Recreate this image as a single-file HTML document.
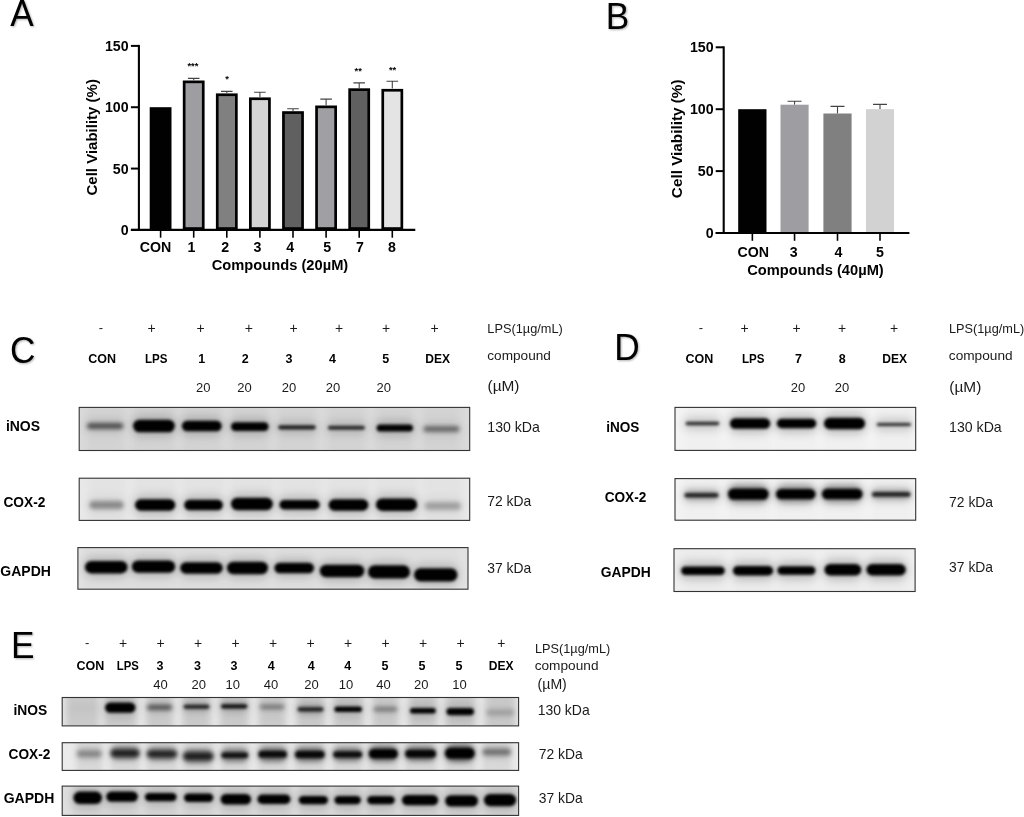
<!DOCTYPE html>
<html><head><meta charset="utf-8"><title>Figure</title>
<style>html,body{margin:0;padding:0;background:#fff}body{width:1024px;height:817px;overflow:hidden}svg{display:block}text{font-family:"Liberation Sans",sans-serif}</style>
</head><body>
<svg width="1024" height="817" viewBox="0 0 1024 817">
<defs>
<filter id="b16" x="-5%" y="-50%" width="110%" height="200%"><feGaussianBlur stdDeviation="1.6"/></filter>
<filter id="b22" x="-5%" y="-50%" width="110%" height="200%"><feGaussianBlur stdDeviation="2.1"/></filter>
<filter id="b3" x="-5%" y="-50%" width="110%" height="200%"><feGaussianBlur stdDeviation="3"/></filter>
<filter id="b25" x="-5%" y="-50%" width="110%" height="200%"><feGaussianBlur stdDeviation="2.6"/></filter>
<filter id="b4" x="-5%" y="-50%" width="110%" height="200%"><feGaussianBlur stdDeviation="4"/></filter>
<filter id="sh" x="-10%" y="-10%" width="130%" height="130%"><feGaussianBlur in="SourceAlpha" stdDeviation="0.8" result="s"/><feOffset in="s" dx="0.8" dy="0.8" result="o"/><feComponentTransfer in="o" result="o2"><feFuncA type="linear" slope="0.32"/></feComponentTransfer><feMerge><feMergeNode in="o2"/><feMergeNode in="SourceGraphic"/></feMerge></filter>
</defs>
<rect width="1024" height="817" fill="#fff"/>
<g opacity="0.999">
<g id="chartA">
<rect x="149.70" y="107.2" width="21.8" height="122.70" fill="#000"/>
<path d="M160.60 229.9V237.70000000000002" stroke="#000" stroke-width="1.6"/>
<path d="M193.70 80.2V78.4M187.90 78.4H199.50" stroke="#444" stroke-width="1.1" fill="none"/>
<rect x="184.15" y="81.85" width="19.10" height="146.70" fill="#9e9da2" stroke="#000" stroke-width="2.7"/>
<path d="M193.70 229.9V237.70000000000002" stroke="#000" stroke-width="1.6"/>
<path d="M226.80 93.1V91.4M221.00 91.4H232.60" stroke="#444" stroke-width="1.1" fill="none"/>
<rect x="217.25" y="94.75" width="19.10" height="133.80" fill="#808080" stroke="#000" stroke-width="2.7"/>
<path d="M226.80 229.9V237.70000000000002" stroke="#000" stroke-width="1.6"/>
<path d="M259.90 97.1V92.2M254.10 92.2H265.70" stroke="#444" stroke-width="1.1" fill="none"/>
<rect x="250.35" y="98.75" width="19.10" height="129.80" fill="#d4d4d4" stroke="#000" stroke-width="2.7"/>
<path d="M259.90 229.9V237.70000000000002" stroke="#000" stroke-width="1.6"/>
<path d="M293.00 110.9V108.7M287.20 108.7H298.80" stroke="#444" stroke-width="1.1" fill="none"/>
<rect x="283.45" y="112.55" width="19.10" height="116.00" fill="#606060" stroke="#000" stroke-width="2.7"/>
<path d="M293.00 229.9V237.70000000000002" stroke="#000" stroke-width="1.6"/>
<path d="M326.10 105.2V99.1M320.30 99.1H331.90" stroke="#444" stroke-width="1.1" fill="none"/>
<rect x="316.55" y="106.85" width="19.10" height="121.70" fill="#a09fa4" stroke="#000" stroke-width="2.7"/>
<path d="M326.10 229.9V237.70000000000002" stroke="#000" stroke-width="1.6"/>
<path d="M359.20 88.0V82.9M353.40 82.9H365.00" stroke="#444" stroke-width="1.1" fill="none"/>
<rect x="349.65" y="89.65" width="19.10" height="138.90" fill="#606060" stroke="#000" stroke-width="2.7"/>
<path d="M359.20 229.9V237.70000000000002" stroke="#000" stroke-width="1.6"/>
<path d="M392.30 88.6V81.2M386.50 81.2H398.10" stroke="#444" stroke-width="1.1" fill="none"/>
<rect x="382.75" y="90.25" width="19.10" height="138.30" fill="#e4e4e4" stroke="#000" stroke-width="2.7"/>
<path d="M392.30 229.9V237.70000000000002" stroke="#000" stroke-width="1.6"/>
<path d="M138.9 44.9V229.9" stroke="#000" stroke-width="2.1" fill="none"/>
<path d="M130.9 229.9H415.3" stroke="#000" stroke-width="2.1" fill="none"/>
<path d="M130.9 229.90H138.9" stroke="#000" stroke-width="2"/>
<text x="128.6" y="234.9" font-size="14.2" font-weight="bold" text-anchor="end">0</text>
<path d="M130.9 168.57H138.9" stroke="#000" stroke-width="2"/>
<text x="128.6" y="173.57" font-size="14.2" font-weight="bold" text-anchor="end">50</text>
<path d="M130.9 107.23H138.9" stroke="#000" stroke-width="2"/>
<text x="128.6" y="112.23" font-size="14.2" font-weight="bold" text-anchor="end">100</text>
<path d="M130.9 45.90H138.9" stroke="#000" stroke-width="2"/>
<text x="128.6" y="50.9" font-size="14.2" font-weight="bold" text-anchor="end">150</text>
<text x="155.6" y="251.8" font-size="14.2" font-weight="bold" text-anchor="middle">CON</text>
<text x="191.5" y="251.8" font-size="14.2" font-weight="bold" text-anchor="middle">1</text>
<text x="225.1" y="251.8" font-size="14.2" font-weight="bold" text-anchor="middle">2</text>
<text x="257.4" y="251.8" font-size="14.2" font-weight="bold" text-anchor="middle">3</text>
<text x="290.1" y="251.8" font-size="14.2" font-weight="bold" text-anchor="middle">4</text>
<text x="327.1" y="251.8" font-size="14.2" font-weight="bold" text-anchor="middle">5</text>
<text x="359.9" y="251.8" font-size="14.2" font-weight="bold" text-anchor="middle">7</text>
<text x="391.9" y="251.8" font-size="14.2" font-weight="bold" text-anchor="middle">8</text>
<text x="280" y="270.2" font-size="14.3" font-weight="bold" text-anchor="middle" textLength="136.5" lengthAdjust="spacingAndGlyphs">Compounds (20µM)</text>
<text transform="translate(97.4,137.3) rotate(-90)" font-size="15" font-weight="bold" text-anchor="middle">Cell Viability (%)</text>
<text x="192.9" y="68.6" font-size="9.4" font-weight="bold" text-anchor="middle">***</text>
<text x="227" y="82.4" font-size="9.4" font-weight="bold" text-anchor="middle">*</text>
<text x="358.2" y="74.4" font-size="9.4" font-weight="bold" text-anchor="middle">**</text>
<text x="392.6" y="72.9" font-size="9.4" font-weight="bold" text-anchor="middle">**</text>
</g>
<g id="chartB">
<rect x="738.2" y="109.2" width="28.30" height="123.80" fill="#000"/>
<path d="M752.35 233.0V240.8" stroke="#000" stroke-width="1.6"/>
<path d="M794.55 104.7V101.2M787.55 101.2H801.55" stroke="#444" stroke-width="1.1" fill="none"/>
<rect x="780.5" y="104.7" width="28.10" height="128.30" fill="#9e9da2"/>
<path d="M794.55 233.0V240.8" stroke="#000" stroke-width="1.6"/>
<path d="M837.50 113.5V106.4M830.50 106.4H844.50" stroke="#444" stroke-width="1.1" fill="none"/>
<rect x="823.4" y="113.5" width="28.20" height="119.50" fill="#808080"/>
<path d="M837.50 233.0V240.8" stroke="#000" stroke-width="1.6"/>
<path d="M880.00 109.2V104.4M873.00 104.4H887.00" stroke="#444" stroke-width="1.1" fill="none"/>
<rect x="866.0" y="109.2" width="28.00" height="123.80" fill="#d2d2d2"/>
<path d="M880.00 233.0V240.8" stroke="#000" stroke-width="1.6"/>
<path d="M723.7 46.3V233.0" stroke="#000" stroke-width="2.1" fill="none"/>
<path d="M715.7 233.0H909.4" stroke="#000" stroke-width="2.1" fill="none"/>
<path d="M715.7 233.00H723.7" stroke="#000" stroke-width="2"/>
<text x="713.6" y="238.0" font-size="14.2" font-weight="bold" text-anchor="end">0</text>
<path d="M715.7 171.10H723.7" stroke="#000" stroke-width="2"/>
<text x="713.6" y="176.1" font-size="14.2" font-weight="bold" text-anchor="end">50</text>
<path d="M715.7 109.20H723.7" stroke="#000" stroke-width="2"/>
<text x="713.6" y="114.2" font-size="14.2" font-weight="bold" text-anchor="end">100</text>
<path d="M715.7 47.30H723.7" stroke="#000" stroke-width="2"/>
<text x="713.6" y="52.3" font-size="14.2" font-weight="bold" text-anchor="end">150</text>
<text x="753.3" y="256.9" font-size="14.2" font-weight="bold" text-anchor="middle">CON</text>
<text x="793.8" y="256.9" font-size="14.2" font-weight="bold" text-anchor="middle">3</text>
<text x="838.5" y="256.9" font-size="14.2" font-weight="bold" text-anchor="middle">4</text>
<text x="879.9" y="256.9" font-size="14.2" font-weight="bold" text-anchor="middle">5</text>
<text x="815.5" y="275.2" font-size="14.3" font-weight="bold" text-anchor="middle" textLength="136.5" lengthAdjust="spacingAndGlyphs">Compounds (40µM)</text>
<text transform="translate(682,138.8) rotate(-90)" font-size="15.3" font-weight="bold" text-anchor="middle">Cell Viability (%)</text>
</g>
<g id="panelC">
<clipPath id="c1"><rect x="79.2" y="407.4" width="390.50" height="43.10"/></clipPath>
<rect x="79.2" y="407.4" width="390.50" height="43.10" fill="#dadada"/>
<g clip-path="url(#c1)">
<g filter="url(#b3)">
<rect x="86.0" y="399.4" width="38.3" height="59.1" fill="#000" fill-opacity="0.03"/>
<rect x="132.1" y="399.4" width="43.7" height="59.1" fill="#000" fill-opacity="0.03"/>
<rect x="180.9" y="399.4" width="41.8" height="59.1" fill="#000" fill-opacity="0.03"/>
<rect x="230.0" y="399.4" width="39.6" height="59.1" fill="#000" fill-opacity="0.03"/>
<rect x="277.2" y="399.4" width="39.5" height="59.1" fill="#000" fill-opacity="0.03"/>
<rect x="326.9" y="399.4" width="39.0" height="59.1" fill="#000" fill-opacity="0.03"/>
<rect x="375.6" y="399.4" width="38.4" height="59.1" fill="#000" fill-opacity="0.03"/>
<rect x="422.5" y="399.4" width="37.9" height="59.1" fill="#000" fill-opacity="0.03"/>
</g>
<g filter="url(#b4)">
<rect x="85.0" y="418.0" width="40.3" height="16.0" rx="8.0" fill="#000" fill-opacity="0.096"/>
<rect x="131.1" y="414.7" width="45.7" height="22.6" rx="11.3" fill="#000" fill-opacity="0.160"/>
<rect x="179.9" y="415.8" width="43.8" height="20.4" rx="10.2" fill="#000" fill-opacity="0.160"/>
<rect x="229.0" y="417.3" width="41.6" height="18.6" rx="9.3" fill="#000" fill-opacity="0.160"/>
<rect x="276.2" y="420.2" width="41.5" height="14.2" rx="7.1" fill="#000" fill-opacity="0.136"/>
<rect x="325.9" y="420.8" width="41.0" height="14.0" rx="7.0" fill="#000" fill-opacity="0.128"/>
<rect x="374.6" y="419.4" width="40.4" height="17.2" rx="8.6" fill="#000" fill-opacity="0.160"/>
<rect x="421.5" y="421.2" width="39.9" height="15.5" rx="7.8" fill="#000" fill-opacity="0.080"/>
</g>
<g filter="url(#b16)">
<rect x="133.1" y="419.7" width="41.7" height="12.6" rx="6.3" fill="#000" fill-opacity="1"/>
<rect x="181.9" y="420.8" width="39.8" height="10.4" rx="5.2" fill="#000" fill-opacity="1"/>
<rect x="231.0" y="422.3" width="37.6" height="8.6" rx="4.3" fill="#000" fill-opacity="1"/>
<rect x="278.2" y="425.2" width="37.5" height="4.2" rx="2.1" fill="#000" fill-opacity="0.85"/>
<rect x="327.9" y="425.8" width="37.0" height="4.0" rx="2.0" fill="#000" fill-opacity="0.8"/>
<rect x="376.6" y="424.4" width="36.4" height="7.2" rx="3.6" fill="#000" fill-opacity="1"/>
</g>
<g filter="url(#b22)">
<rect x="87.0" y="423.0" width="36.3" height="6.0" rx="3.0" fill="#000" fill-opacity="0.6"/>
<rect x="423.5" y="426.2" width="35.9" height="5.5" rx="2.8" fill="#000" fill-opacity="0.5"/>
</g>
</g>
<rect x="79.2" y="407.4" width="390.50" height="43.10" fill="none" stroke="#333" stroke-width="1.1"/>
<clipPath id="c2"><rect x="79.2" y="478.2" width="390.50" height="42.20"/></clipPath>
<rect x="79.2" y="478.2" width="390.50" height="42.20" fill="#e8e8e8"/>
<g clip-path="url(#c2)">
<g filter="url(#b3)">
<rect x="88.3" y="470.2" width="36.4" height="58.2" fill="#000" fill-opacity="0.02"/>
<rect x="134.0" y="470.2" width="42.3" height="58.2" fill="#000" fill-opacity="0.02"/>
<rect x="183.2" y="470.2" width="40.7" height="58.2" fill="#000" fill-opacity="0.02"/>
<rect x="230.0" y="470.2" width="43.8" height="58.2" fill="#000" fill-opacity="0.02"/>
<rect x="278.4" y="470.2" width="42.3" height="58.2" fill="#000" fill-opacity="0.02"/>
<rect x="327.6" y="470.2" width="41.8" height="58.2" fill="#000" fill-opacity="0.02"/>
<rect x="374.9" y="470.2" width="43.3" height="58.2" fill="#000" fill-opacity="0.02"/>
<rect x="423.7" y="470.2" width="38.3" height="58.2" fill="#000" fill-opacity="0.02"/>
</g>
<g filter="url(#b4)">
<rect x="87.3" y="496.1" width="38.4" height="18.0" rx="9.0" fill="#000" fill-opacity="0.058"/>
<rect x="133.0" y="494.3" width="44.3" height="21.4" rx="10.7" fill="#000" fill-opacity="0.160"/>
<rect x="182.2" y="494.8" width="42.7" height="20.4" rx="10.2" fill="#000" fill-opacity="0.160"/>
<rect x="229.0" y="492.8" width="45.8" height="22.4" rx="11.2" fill="#000" fill-opacity="0.160"/>
<rect x="277.4" y="495.0" width="44.3" height="19.4" rx="9.7" fill="#000" fill-opacity="0.160"/>
<rect x="326.6" y="494.3" width="43.8" height="21.4" rx="10.7" fill="#000" fill-opacity="0.160"/>
<rect x="373.9" y="493.5" width="45.3" height="22.4" rx="11.2" fill="#000" fill-opacity="0.160"/>
<rect x="422.7" y="496.9" width="40.3" height="18.0" rx="9.0" fill="#000" fill-opacity="0.048"/>
</g>
<g filter="url(#b16)">
<rect x="135.0" y="499.3" width="40.3" height="11.4" rx="5.7" fill="#000" fill-opacity="1"/>
<rect x="184.2" y="499.8" width="38.7" height="10.4" rx="5.2" fill="#000" fill-opacity="1"/>
<rect x="231.0" y="497.8" width="41.8" height="12.4" rx="6.2" fill="#000" fill-opacity="1"/>
<rect x="279.4" y="500.0" width="40.3" height="9.4" rx="4.7" fill="#000" fill-opacity="1"/>
<rect x="328.6" y="499.3" width="39.8" height="11.4" rx="5.7" fill="#000" fill-opacity="1"/>
<rect x="375.9" y="498.5" width="41.3" height="12.4" rx="6.2" fill="#000" fill-opacity="1"/>
</g>
<g filter="url(#b22)">
<rect x="89.3" y="501.1" width="34.4" height="8.0" rx="4.0" fill="#000" fill-opacity="0.36"/>
<rect x="424.7" y="501.9" width="36.3" height="8.0" rx="4.0" fill="#000" fill-opacity="0.26"/>
</g>
</g>
<rect x="79.2" y="478.2" width="390.50" height="42.20" fill="none" stroke="#333" stroke-width="1.1"/>
<clipPath id="c3"><rect x="77.9" y="547.6" width="390.10" height="41.60"/></clipPath>
<rect x="77.9" y="547.6" width="390.10" height="41.60" fill="#e2e2e2"/>
<g clip-path="url(#c3)">
<g filter="url(#b3)">
<rect x="84.0" y="539.6" width="44.5" height="57.6" fill="#000" fill-opacity="0.02"/>
<rect x="130.8" y="539.6" width="45.4" height="57.6" fill="#000" fill-opacity="0.02"/>
<rect x="179.2" y="539.6" width="44.5" height="57.6" fill="#000" fill-opacity="0.02"/>
<rect x="226.0" y="539.6" width="43.0" height="57.6" fill="#000" fill-opacity="0.02"/>
<rect x="273.4" y="539.6" width="41.6" height="57.6" fill="#000" fill-opacity="0.02"/>
<rect x="318.8" y="539.6" width="46.5" height="57.6" fill="#000" fill-opacity="0.02"/>
<rect x="367.0" y="539.6" width="44.0" height="57.6" fill="#000" fill-opacity="0.02"/>
<rect x="413.0" y="539.6" width="45.5" height="57.6" fill="#000" fill-opacity="0.02"/>
</g>
<g filter="url(#b4)">
<rect x="83.0" y="556.0" width="46.5" height="22.4" rx="11.2" fill="#000" fill-opacity="0.160"/>
<rect x="129.8" y="555.4" width="47.4" height="22.4" rx="11.2" fill="#000" fill-opacity="0.160"/>
<rect x="178.2" y="557.3" width="46.5" height="21.4" rx="10.7" fill="#000" fill-opacity="0.160"/>
<rect x="225.0" y="556.8" width="45.0" height="22.4" rx="11.2" fill="#000" fill-opacity="0.160"/>
<rect x="272.4" y="557.8" width="43.6" height="20.4" rx="10.2" fill="#000" fill-opacity="0.160"/>
<rect x="317.8" y="559.8" width="48.5" height="22.4" rx="11.2" fill="#000" fill-opacity="0.160"/>
<rect x="366.0" y="560.3" width="46.0" height="23.2" rx="11.6" fill="#000" fill-opacity="0.160"/>
<rect x="412.0" y="563.2" width="47.5" height="23.2" rx="11.6" fill="#000" fill-opacity="0.160"/>
</g>
<g filter="url(#b16)">
<rect x="85.0" y="561.0" width="42.5" height="12.4" rx="6.2" fill="#000" fill-opacity="1"/>
<rect x="131.8" y="560.4" width="43.4" height="12.4" rx="6.2" fill="#000" fill-opacity="1"/>
<rect x="180.2" y="562.3" width="42.5" height="11.4" rx="5.7" fill="#000" fill-opacity="1"/>
<rect x="227.0" y="561.8" width="41.0" height="12.4" rx="6.2" fill="#000" fill-opacity="1"/>
<rect x="274.4" y="562.8" width="39.6" height="10.4" rx="5.2" fill="#000" fill-opacity="1"/>
<rect x="319.8" y="564.8" width="44.5" height="12.4" rx="6.2" fill="#000" fill-opacity="1"/>
<rect x="368.0" y="565.3" width="42.0" height="13.2" rx="6.6" fill="#000" fill-opacity="1"/>
<rect x="414.0" y="568.2" width="43.5" height="13.2" rx="6.6" fill="#000" fill-opacity="1"/>
</g>
</g>
<rect x="77.9" y="547.6" width="390.10" height="41.60" fill="none" stroke="#333" stroke-width="1.1"/>
<text x="101" y="332.2" font-size="13" text-anchor="middle" fill="#1a1a1a">-</text>
<text x="151.5" y="332.8" font-size="14" text-anchor="middle" fill="#1a1a1a">+</text>
<text x="200.7" y="332.8" font-size="14" text-anchor="middle" fill="#1a1a1a">+</text>
<text x="248.8" y="332.8" font-size="14" text-anchor="middle" fill="#1a1a1a">+</text>
<text x="293.6" y="332.8" font-size="14" text-anchor="middle" fill="#1a1a1a">+</text>
<text x="339" y="332.8" font-size="14" text-anchor="middle" fill="#1a1a1a">+</text>
<text x="386" y="332.8" font-size="14" text-anchor="middle" fill="#1a1a1a">+</text>
<text x="434.7" y="332.8" font-size="14" text-anchor="middle" fill="#1a1a1a">+</text>
<text x="102.2" y="363.4" font-size="12.5" font-weight="bold" text-anchor="middle">CON</text>
<text x="156.2" y="363.4" font-size="12.5" font-weight="bold" text-anchor="middle" textLength="22.5" lengthAdjust="spacingAndGlyphs">LPS</text>
<text x="201.7" y="363.4" font-size="12.5" font-weight="bold" text-anchor="middle">1</text>
<text x="245.2" y="363.4" font-size="12.5" font-weight="bold" text-anchor="middle">2</text>
<text x="288.9" y="363.4" font-size="12.5" font-weight="bold" text-anchor="middle">3</text>
<text x="332.4" y="363.4" font-size="12.5" font-weight="bold" text-anchor="middle">4</text>
<text x="385.7" y="363.4" font-size="12.5" font-weight="bold" text-anchor="middle">5</text>
<text x="437.6" y="363.4" font-size="12.5" font-weight="bold" text-anchor="middle" textLength="24.8" lengthAdjust="spacingAndGlyphs">DEX</text>
<text x="203.3" y="391.9" font-size="13" text-anchor="middle" fill="#1a1a1a">20</text>
<text x="244.6" y="391.9" font-size="13" text-anchor="middle" fill="#1a1a1a">20</text>
<text x="288.9" y="391.9" font-size="13" text-anchor="middle" fill="#1a1a1a">20</text>
<text x="333" y="391.9" font-size="13" text-anchor="middle" fill="#1a1a1a">20</text>
<text x="383.8" y="391.9" font-size="13" text-anchor="middle" fill="#1a1a1a">20</text>
<text x="487.3" y="333.2" font-size="13" textLength="75.5" lengthAdjust="spacingAndGlyphs" fill="#1a1a1a">LPS(1µg/mL)</text>
<text x="487.3" y="359.8" font-size="13.5" textLength="63.6" lengthAdjust="spacingAndGlyphs" fill="#1a1a1a">compound</text>
<text x="487.5" y="390.9" font-size="15.5" textLength="32" lengthAdjust="spacingAndGlyphs" fill="#1a1a1a">(µM)</text>
<text x="487.3" y="432.0" font-size="14.5" textLength="52.6" lengthAdjust="spacingAndGlyphs" fill="#1a1a1a">130 kDa</text>
<text x="487.3" y="506.3" font-size="14.5" textLength="44" lengthAdjust="spacingAndGlyphs" fill="#1a1a1a">72 kDa</text>
<text x="487.3" y="572.5" font-size="14.5" textLength="44" lengthAdjust="spacingAndGlyphs" fill="#1a1a1a">37 kDa</text>
<text x="5.9" y="431.1" font-size="15" font-weight="bold" textLength="34.2" lengthAdjust="spacingAndGlyphs">iNOS</text>
<text x="3.4" y="506.9" font-size="15" font-weight="bold" textLength="42" lengthAdjust="spacingAndGlyphs">COX-2</text>
<text x="0.3" y="575.9" font-size="15" font-weight="bold" textLength="50.6" lengthAdjust="spacingAndGlyphs">GAPDH</text>
</g>
<g id="panelD">
<clipPath id="c4"><rect x="675" y="407.4" width="240.70" height="43.00"/></clipPath>
<rect x="675" y="407.4" width="240.70" height="43.00" fill="#f3f3f3"/>
<g clip-path="url(#c4)">
<g filter="url(#b3)">
<rect x="684.6" y="399.4" width="35.7" height="59.0" fill="#000" fill-opacity="0.012"/>
<rect x="728.9" y="399.4" width="42.3" height="59.0" fill="#000" fill-opacity="0.012"/>
<rect x="775.8" y="399.4" width="41.5" height="59.0" fill="#000" fill-opacity="0.012"/>
<rect x="823.0" y="399.4" width="43.1" height="59.0" fill="#000" fill-opacity="0.012"/>
<rect x="875.7" y="399.4" width="36.3" height="59.0" fill="#000" fill-opacity="0.012"/>
</g>
<g filter="url(#b4)">
<rect x="683.6" y="416.8" width="37.7" height="13.4" rx="6.7" fill="#000" fill-opacity="0.160"/>
<rect x="727.9" y="413.3" width="44.3" height="20.4" rx="10.2" fill="#000" fill-opacity="0.200"/>
<rect x="774.8" y="413.8" width="43.5" height="19.4" rx="9.7" fill="#000" fill-opacity="0.200"/>
<rect x="822.0" y="412.8" width="45.1" height="21.4" rx="10.7" fill="#000" fill-opacity="0.200"/>
<rect x="874.7" y="417.9" width="38.3" height="13.2" rx="6.6" fill="#000" fill-opacity="0.160"/>
</g>
<g filter="url(#b16)">
<rect x="685.6" y="421.8" width="33.7" height="3.4" rx="1.7" fill="#000" fill-opacity="0.8"/>
<rect x="729.9" y="418.3" width="40.3" height="10.4" rx="5.2" fill="#000" fill-opacity="1"/>
<rect x="776.8" y="418.8" width="39.5" height="9.4" rx="4.7" fill="#000" fill-opacity="1"/>
<rect x="824.0" y="417.8" width="41.1" height="11.4" rx="5.7" fill="#000" fill-opacity="1"/>
<rect x="876.7" y="422.9" width="34.3" height="3.2" rx="1.6" fill="#000" fill-opacity="0.8"/>
</g>
</g>
<rect x="675" y="407.4" width="240.70" height="43.00" fill="none" stroke="#333" stroke-width="1.1"/>
<clipPath id="c5"><rect x="675" y="478.6" width="240.70" height="41.60"/></clipPath>
<rect x="675" y="478.6" width="240.70" height="41.60" fill="#f3f3f3"/>
<g clip-path="url(#c5)">
<g filter="url(#b3)">
<rect x="683.5" y="470.6" width="36.0" height="57.6" fill="#000" fill-opacity="0.012"/>
<rect x="727.0" y="470.6" width="42.6" height="57.6" fill="#000" fill-opacity="0.012"/>
<rect x="775.0" y="470.6" width="41.5" height="57.6" fill="#000" fill-opacity="0.012"/>
<rect x="821.0" y="470.6" width="42.5" height="57.6" fill="#000" fill-opacity="0.012"/>
<rect x="871.0" y="470.6" width="40.5" height="57.6" fill="#000" fill-opacity="0.012"/>
</g>
<g filter="url(#b4)">
<rect x="682.5" y="487.9" width="38.0" height="14.6" rx="7.3" fill="#000" fill-opacity="0.160"/>
<rect x="726.0" y="483.4" width="44.6" height="21.4" rx="10.7" fill="#000" fill-opacity="0.200"/>
<rect x="774.0" y="483.9" width="43.5" height="20.4" rx="10.2" fill="#000" fill-opacity="0.200"/>
<rect x="820.0" y="483.8" width="44.5" height="20.4" rx="10.2" fill="#000" fill-opacity="0.200"/>
<rect x="870.0" y="487.1" width="42.5" height="14.6" rx="7.3" fill="#000" fill-opacity="0.160"/>
</g>
<g filter="url(#b25)">
<rect x="684.0" y="490.2" width="35.0" height="10.0" rx="5.0" fill="#000" fill-opacity="0.18"/>
<rect x="727.5" y="484.6" width="41.6" height="19.0" rx="9.5" fill="#000" fill-opacity="0.22"/>
<rect x="775.5" y="485.1" width="40.5" height="18.0" rx="9.0" fill="#000" fill-opacity="0.22"/>
<rect x="821.5" y="485.0" width="41.5" height="18.0" rx="9.0" fill="#000" fill-opacity="0.22"/>
<rect x="871.5" y="489.4" width="39.5" height="10.0" rx="5.0" fill="#000" fill-opacity="0.18"/>
</g>
<g filter="url(#b16)">
<rect x="684.5" y="492.9" width="34.0" height="4.6" rx="2.3" fill="#000" fill-opacity="0.8"/>
<rect x="728.0" y="488.4" width="40.6" height="11.4" rx="5.7" fill="#000" fill-opacity="1"/>
<rect x="776.0" y="488.9" width="39.5" height="10.4" rx="5.2" fill="#000" fill-opacity="1"/>
<rect x="822.0" y="488.8" width="40.5" height="10.4" rx="5.2" fill="#000" fill-opacity="1"/>
<rect x="872.0" y="492.1" width="38.5" height="4.6" rx="2.3" fill="#000" fill-opacity="0.8"/>
</g>
</g>
<rect x="675" y="478.6" width="240.70" height="41.60" fill="none" stroke="#333" stroke-width="1.1"/>
<clipPath id="c6"><rect x="674" y="548.7" width="241.10" height="42.80"/></clipPath>
<rect x="674" y="548.7" width="241.10" height="42.80" fill="#efefef"/>
<g clip-path="url(#c6)">
<g filter="url(#b3)">
<rect x="680.1" y="540.7" width="45.7" height="58.8" fill="#000" fill-opacity="0.012"/>
<rect x="731.9" y="540.7" width="42.2" height="58.8" fill="#000" fill-opacity="0.012"/>
<rect x="776.4" y="540.7" width="40.1" height="58.8" fill="#000" fill-opacity="0.012"/>
<rect x="823.4" y="540.7" width="38.9" height="58.8" fill="#000" fill-opacity="0.012"/>
<rect x="865.4" y="540.7" width="41.4" height="58.8" fill="#000" fill-opacity="0.012"/>
</g>
<g filter="url(#b4)">
<rect x="679.1" y="561.5" width="47.7" height="18.4" rx="9.2" fill="#000" fill-opacity="0.200"/>
<rect x="730.9" y="561.0" width="44.2" height="19.4" rx="9.7" fill="#000" fill-opacity="0.200"/>
<rect x="775.4" y="561.3" width="42.1" height="18.4" rx="9.2" fill="#000" fill-opacity="0.200"/>
<rect x="822.4" y="559.1" width="40.9" height="21.4" rx="10.7" fill="#000" fill-opacity="0.200"/>
<rect x="864.4" y="559.1" width="43.4" height="21.4" rx="10.7" fill="#000" fill-opacity="0.200"/>
</g>
<g filter="url(#b16)">
<rect x="681.1" y="566.5" width="43.7" height="8.4" rx="4.2" fill="#000" fill-opacity="1"/>
<rect x="732.9" y="566.0" width="40.2" height="9.4" rx="4.7" fill="#000" fill-opacity="1"/>
<rect x="777.4" y="566.3" width="38.1" height="8.4" rx="4.2" fill="#000" fill-opacity="1"/>
<rect x="824.4" y="564.1" width="36.9" height="11.4" rx="5.7" fill="#000" fill-opacity="1"/>
<rect x="866.4" y="564.1" width="39.4" height="11.4" rx="5.7" fill="#000" fill-opacity="1"/>
</g>
</g>
<rect x="674" y="548.7" width="241.10" height="42.80" fill="none" stroke="#333" stroke-width="1.1"/>
<text x="701.0" y="332.2" font-size="13" text-anchor="middle" fill="#1a1a1a">-</text>
<text x="744.5999999999999" y="332.6" font-size="14" text-anchor="middle" fill="#1a1a1a">+</text>
<text x="796.6999999999999" y="332.6" font-size="14" text-anchor="middle" fill="#1a1a1a">+</text>
<text x="842.0999999999999" y="332.6" font-size="14" text-anchor="middle" fill="#1a1a1a">+</text>
<text x="894.1999999999999" y="332.6" font-size="14" text-anchor="middle" fill="#1a1a1a">+</text>
<text x="699.3" y="362.7" font-size="12.5" font-weight="bold" text-anchor="middle">CON</text>
<text x="753.2" y="362.7" font-size="12.5" font-weight="bold" text-anchor="middle" textLength="22.5" lengthAdjust="spacingAndGlyphs">LPS</text>
<text x="798.5" y="362.7" font-size="12.5" font-weight="bold" text-anchor="middle">7</text>
<text x="842.2" y="362.7" font-size="12.5" font-weight="bold" text-anchor="middle">8</text>
<text x="894.7" y="362.7" font-size="12.5" font-weight="bold" text-anchor="middle" textLength="24.8" lengthAdjust="spacingAndGlyphs">DEX</text>
<text x="798.0" y="391.5" font-size="13" text-anchor="middle" fill="#1a1a1a">20</text>
<text x="842.0999999999999" y="391.5" font-size="13" text-anchor="middle" fill="#1a1a1a">20</text>
<text x="949.0" y="332.9" font-size="13" textLength="75.2" lengthAdjust="spacingAndGlyphs" fill="#1a1a1a">LPS(1µg/mL)</text>
<text x="948.8" y="359.7" font-size="13.5" textLength="63.8" lengthAdjust="spacingAndGlyphs" fill="#1a1a1a">compound</text>
<text x="949.3" y="392.0" font-size="15.5" textLength="32" lengthAdjust="spacingAndGlyphs" fill="#1a1a1a">(µM)</text>
<text x="949.1" y="431.8" font-size="14.5" textLength="52.6" lengthAdjust="spacingAndGlyphs" fill="#1a1a1a">130 kDa</text>
<text x="949.1" y="506.7" font-size="14.5" textLength="44" lengthAdjust="spacingAndGlyphs" fill="#1a1a1a">72 kDa</text>
<text x="949.1" y="572.2" font-size="14.5" textLength="44" lengthAdjust="spacingAndGlyphs" fill="#1a1a1a">37 kDa</text>
<text x="606.2" y="432.0" font-size="15" font-weight="bold" textLength="33.2" lengthAdjust="spacingAndGlyphs">iNOS</text>
<text x="604.7" y="501.5" font-size="15" font-weight="bold" textLength="41.6" lengthAdjust="spacingAndGlyphs">COX-2</text>
<text x="600.8" y="576.5" font-size="15" font-weight="bold" textLength="50" lengthAdjust="spacingAndGlyphs">GAPDH</text>
</g>
<g id="panelE">
<clipPath id="c7"><rect x="62.2" y="697.5" width="456.40" height="28.40"/></clipPath>
<rect x="62.2" y="697.5" width="456.40" height="28.40" fill="#e6e6e6"/>
<g clip-path="url(#c7)">
<g filter="url(#b3)">
<rect x="66.0" y="689.5" width="33.0" height="44.4" fill="#000" fill-opacity="0.12"/>
<rect x="104.0" y="689.5" width="32.5" height="44.4" fill="#000" fill-opacity="0.12"/>
<rect x="146.3" y="689.5" width="26.6" height="44.4" fill="#000" fill-opacity="0.12"/>
<rect x="182.6" y="689.5" width="27.8" height="44.4" fill="#000" fill-opacity="0.12"/>
<rect x="220.0" y="689.5" width="28.3" height="44.4" fill="#000" fill-opacity="0.12"/>
<rect x="258.7" y="689.5" width="26.7" height="44.4" fill="#000" fill-opacity="0.12"/>
<rect x="296.6" y="689.5" width="27.8" height="44.4" fill="#000" fill-opacity="0.12"/>
<rect x="333.4" y="689.5" width="29.6" height="44.4" fill="#000" fill-opacity="0.12"/>
<rect x="372.7" y="689.5" width="25.5" height="44.4" fill="#000" fill-opacity="0.12"/>
<rect x="409.0" y="689.5" width="27.8" height="44.4" fill="#000" fill-opacity="0.12"/>
<rect x="445.4" y="689.5" width="29.6" height="44.4" fill="#000" fill-opacity="0.12"/>
<rect x="485.2" y="689.5" width="30.2" height="44.4" fill="#000" fill-opacity="0.12"/>
</g>
<g filter="url(#b4)">
<rect x="65.0" y="703.0" width="35.0" height="10.0" rx="5.0" fill="#000" fill-opacity="0.036"/>
<rect x="103.0" y="697.4" width="34.5" height="20.4" rx="10.2" fill="#000" fill-opacity="0.120"/>
<rect x="145.3" y="700.6" width="28.6" height="13.6" rx="6.8" fill="#000" fill-opacity="0.072"/>
<rect x="181.6" y="699.8" width="29.8" height="14.0" rx="7.0" fill="#000" fill-opacity="0.096"/>
<rect x="219.0" y="699.2" width="30.3" height="14.2" rx="7.1" fill="#000" fill-opacity="0.108"/>
<rect x="257.7" y="700.1" width="28.7" height="13.6" rx="6.8" fill="#000" fill-opacity="0.046"/>
<rect x="295.6" y="702.2" width="29.8" height="14.2" rx="7.1" fill="#000" fill-opacity="0.096"/>
<rect x="332.4" y="701.5" width="31.6" height="15.6" rx="7.8" fill="#000" fill-opacity="0.120"/>
<rect x="371.7" y="702.6" width="27.5" height="13.4" rx="6.7" fill="#000" fill-opacity="0.048"/>
<rect x="408.0" y="703.0" width="29.8" height="15.6" rx="7.8" fill="#000" fill-opacity="0.120"/>
<rect x="444.4" y="703.0" width="31.6" height="17.2" rx="8.6" fill="#000" fill-opacity="0.120"/>
<rect x="484.2" y="704.2" width="32.2" height="16.5" rx="8.2" fill="#000" fill-opacity="0.036"/>
</g>
<g filter="url(#b25)">
<rect x="146.8" y="703.4" width="25.6" height="8.0" rx="4.0" fill="#000" fill-opacity="0.15"/>
<rect x="183.1" y="702.8" width="26.8" height="8.0" rx="4.0" fill="#000" fill-opacity="0.15"/>
<rect x="220.5" y="702.3" width="27.3" height="8.0" rx="4.0" fill="#000" fill-opacity="0.15"/>
<rect x="259.2" y="702.9" width="25.7" height="8.0" rx="4.0" fill="#000" fill-opacity="0.08"/>
<rect x="297.1" y="704.8" width="26.8" height="9.0" rx="4.5" fill="#000" fill-opacity="0.18"/>
<rect x="373.2" y="705.8" width="24.5" height="7.0" rx="3.5" fill="#000" fill-opacity="0.08"/>
</g>
<g filter="url(#b16)">
<rect x="105.0" y="702.4" width="30.5" height="10.4" rx="5.2" fill="#000" fill-opacity="1"/>
<rect x="183.6" y="704.8" width="25.8" height="4.0" rx="2.0" fill="#000" fill-opacity="0.8"/>
<rect x="221.0" y="704.2" width="26.3" height="4.2" rx="2.1" fill="#000" fill-opacity="0.9"/>
<rect x="297.6" y="707.2" width="25.8" height="4.2" rx="2.1" fill="#000" fill-opacity="0.8"/>
<rect x="334.4" y="706.5" width="27.6" height="5.6" rx="2.8" fill="#000" fill-opacity="1"/>
<rect x="410.0" y="708.0" width="25.8" height="5.6" rx="2.8" fill="#000" fill-opacity="1"/>
<rect x="446.4" y="708.0" width="27.6" height="7.2" rx="3.6" fill="#000" fill-opacity="1"/>
</g>
<g filter="url(#b22)">
<rect x="147.3" y="705.6" width="24.6" height="3.6" rx="1.8" fill="#000" fill-opacity="0.6"/>
<rect x="259.7" y="705.1" width="24.7" height="3.6" rx="1.8" fill="#000" fill-opacity="0.38"/>
<rect x="373.7" y="707.6" width="23.5" height="3.4" rx="1.7" fill="#000" fill-opacity="0.4"/>
<rect x="486.2" y="709.2" width="28.2" height="6.5" rx="3.2" fill="#000" fill-opacity="0.18"/>
</g>
</g>
<rect x="62.2" y="697.5" width="456.40" height="28.40" fill="none" stroke="#333" stroke-width="1.1"/>
<clipPath id="c8"><rect x="62.2" y="742.7" width="456.40" height="27.70"/></clipPath>
<rect x="62.2" y="742.7" width="456.40" height="27.70" fill="#ebebeb"/>
<g clip-path="url(#c8)">
<g filter="url(#b3)">
<rect x="76.0" y="734.7" width="26.6" height="43.7" fill="#000" fill-opacity="0.08"/>
<rect x="110.0" y="734.7" width="30.0" height="43.7" fill="#000" fill-opacity="0.08"/>
<rect x="146.3" y="734.7" width="31.3" height="43.7" fill="#000" fill-opacity="0.08"/>
<rect x="182.6" y="734.7" width="31.3" height="43.7" fill="#000" fill-opacity="0.08"/>
<rect x="220.5" y="734.7" width="28.5" height="43.7" fill="#000" fill-opacity="0.08"/>
<rect x="257.6" y="734.7" width="30.1" height="43.7" fill="#000" fill-opacity="0.08"/>
<rect x="294.2" y="734.7" width="31.3" height="43.7" fill="#000" fill-opacity="0.08"/>
<rect x="332.4" y="734.7" width="30.6" height="43.7" fill="#000" fill-opacity="0.08"/>
<rect x="368.0" y="734.7" width="30.6" height="43.7" fill="#000" fill-opacity="0.08"/>
<rect x="404.4" y="734.7" width="32.4" height="43.7" fill="#000" fill-opacity="0.08"/>
<rect x="444.2" y="734.7" width="31.3" height="43.7" fill="#000" fill-opacity="0.08"/>
<rect x="481.7" y="734.7" width="30.1" height="43.7" fill="#000" fill-opacity="0.08"/>
</g>
<g filter="url(#b4)">
<rect x="75.0" y="745.7" width="28.6" height="16.0" rx="8.0" fill="#000" fill-opacity="0.036"/>
<rect x="109.0" y="744.9" width="32.0" height="16.5" rx="8.2" fill="#000" fill-opacity="0.095"/>
<rect x="145.3" y="746.0" width="33.3" height="16.0" rx="8.0" fill="#000" fill-opacity="0.095"/>
<rect x="181.6" y="747.8" width="33.3" height="17.0" rx="8.5" fill="#000" fill-opacity="0.095"/>
<rect x="219.5" y="747.5" width="30.5" height="15.5" rx="7.8" fill="#000" fill-opacity="0.102"/>
<rect x="256.6" y="746.1" width="32.1" height="16.5" rx="8.2" fill="#000" fill-opacity="0.108"/>
<rect x="293.2" y="745.9" width="33.3" height="17.0" rx="8.5" fill="#000" fill-opacity="0.110"/>
<rect x="331.4" y="746.4" width="32.6" height="16.0" rx="8.0" fill="#000" fill-opacity="0.108"/>
<rect x="367.0" y="744.2" width="32.6" height="19.0" rx="9.5" fill="#000" fill-opacity="0.120"/>
<rect x="403.4" y="745.0" width="34.4" height="17.5" rx="8.8" fill="#000" fill-opacity="0.114"/>
<rect x="443.2" y="743.0" width="33.3" height="20.5" rx="10.2" fill="#000" fill-opacity="0.120"/>
<rect x="480.7" y="744.6" width="32.1" height="15.0" rx="7.5" fill="#000" fill-opacity="0.050"/>
</g>
<g filter="url(#b25)">
<rect x="76.5" y="747.7" width="25.6" height="12.0" rx="6.0" fill="#000" fill-opacity="0.12"/>
<rect x="110.5" y="746.6" width="29.0" height="13.0" rx="6.5" fill="#000" fill-opacity="0.4"/>
<rect x="146.8" y="747.5" width="30.3" height="13.0" rx="6.5" fill="#000" fill-opacity="0.38"/>
<rect x="183.1" y="749.3" width="30.3" height="14.0" rx="7.0" fill="#000" fill-opacity="0.4"/>
<rect x="221.0" y="748.7" width="27.5" height="13.0" rx="6.5" fill="#000" fill-opacity="0.4"/>
<rect x="258.1" y="747.4" width="29.1" height="14.0" rx="7.0" fill="#000" fill-opacity="0.45"/>
<rect x="294.7" y="747.4" width="30.3" height="14.0" rx="7.0" fill="#000" fill-opacity="0.45"/>
<rect x="332.9" y="747.9" width="29.6" height="13.0" rx="6.5" fill="#000" fill-opacity="0.42"/>
<rect x="368.5" y="746.2" width="29.6" height="15.0" rx="7.5" fill="#000" fill-opacity="0.5"/>
<rect x="404.9" y="746.7" width="31.4" height="14.0" rx="7.0" fill="#000" fill-opacity="0.48"/>
<rect x="444.7" y="744.8" width="30.3" height="17.0" rx="8.5" fill="#000" fill-opacity="0.5"/>
<rect x="482.2" y="746.1" width="29.1" height="12.0" rx="6.0" fill="#000" fill-opacity="0.14"/>
</g>
<g filter="url(#b16)">
<rect x="221.5" y="752.5" width="26.5" height="5.5" rx="2.8" fill="#000" fill-opacity="0.85"/>
<rect x="258.6" y="751.1" width="28.1" height="6.5" rx="3.2" fill="#000" fill-opacity="0.9"/>
<rect x="295.2" y="750.9" width="29.3" height="7.0" rx="3.5" fill="#000" fill-opacity="0.92"/>
<rect x="333.4" y="751.4" width="28.6" height="6.0" rx="3.0" fill="#000" fill-opacity="0.9"/>
<rect x="369.0" y="749.2" width="28.6" height="9.0" rx="4.5" fill="#000" fill-opacity="1"/>
<rect x="405.4" y="750.0" width="30.4" height="7.5" rx="3.8" fill="#000" fill-opacity="0.95"/>
<rect x="445.2" y="748.0" width="29.3" height="10.5" rx="5.2" fill="#000" fill-opacity="1"/>
</g>
<g filter="url(#b22)">
<rect x="77.0" y="750.7" width="24.6" height="6.0" rx="3.0" fill="#000" fill-opacity="0.28"/>
<rect x="111.0" y="749.9" width="28.0" height="6.5" rx="3.2" fill="#000" fill-opacity="0.79"/>
<rect x="147.3" y="751.0" width="29.3" height="6.0" rx="3.0" fill="#000" fill-opacity="0.79"/>
<rect x="183.6" y="752.8" width="29.3" height="7.0" rx="3.5" fill="#000" fill-opacity="0.79"/>
<rect x="482.7" y="749.6" width="28.1" height="5.0" rx="2.5" fill="#000" fill-opacity="0.42"/>
</g>
</g>
<rect x="62.2" y="742.7" width="456.40" height="27.70" fill="none" stroke="#333" stroke-width="1.1"/>
<clipPath id="c9"><rect x="62.2" y="786.1" width="456.40" height="29.30"/></clipPath>
<rect x="62.2" y="786.1" width="456.40" height="29.30" fill="#dedede"/>
<g clip-path="url(#c9)">
<g filter="url(#b3)">
<rect x="72.4" y="778.1" width="30.6" height="45.3" fill="#000" fill-opacity="0.05"/>
<rect x="105.2" y="778.1" width="33.7" height="45.3" fill="#000" fill-opacity="0.05"/>
<rect x="143.9" y="778.1" width="33.7" height="45.3" fill="#000" fill-opacity="0.05"/>
<rect x="183.0" y="778.1" width="31.3" height="45.3" fill="#000" fill-opacity="0.05"/>
<rect x="219.6" y="778.1" width="32.5" height="45.3" fill="#000" fill-opacity="0.05"/>
<rect x="256.4" y="778.1" width="35.1" height="45.3" fill="#000" fill-opacity="0.05"/>
<rect x="297.7" y="778.1" width="31.3" height="45.3" fill="#000" fill-opacity="0.05"/>
<rect x="333.4" y="778.1" width="28.5" height="45.3" fill="#000" fill-opacity="0.05"/>
<rect x="366.2" y="778.1" width="29.6" height="45.3" fill="#000" fill-opacity="0.05"/>
<rect x="400.9" y="778.1" width="38.3" height="45.3" fill="#000" fill-opacity="0.05"/>
<rect x="444.2" y="778.1" width="34.8" height="45.3" fill="#000" fill-opacity="0.05"/>
<rect x="482.9" y="778.1" width="34.3" height="45.3" fill="#000" fill-opacity="0.05"/>
</g>
<g filter="url(#b4)">
<rect x="71.4" y="786.6" width="32.6" height="22.4" rx="11.2" fill="#000" fill-opacity="0.140"/>
<rect x="104.2" y="786.4" width="35.7" height="20.4" rx="10.2" fill="#000" fill-opacity="0.140"/>
<rect x="142.9" y="787.9" width="35.7" height="18.4" rx="9.2" fill="#000" fill-opacity="0.140"/>
<rect x="182.0" y="788.6" width="33.3" height="18.4" rx="9.2" fill="#000" fill-opacity="0.140"/>
<rect x="218.6" y="789.0" width="34.5" height="20.4" rx="10.2" fill="#000" fill-opacity="0.140"/>
<rect x="255.4" y="789.5" width="37.1" height="19.4" rx="9.7" fill="#000" fill-opacity="0.140"/>
<rect x="296.7" y="790.9" width="33.3" height="18.4" rx="9.2" fill="#000" fill-opacity="0.140"/>
<rect x="332.4" y="790.9" width="30.5" height="18.4" rx="9.2" fill="#000" fill-opacity="0.140"/>
<rect x="365.2" y="790.9" width="31.6" height="18.4" rx="9.2" fill="#000" fill-opacity="0.140"/>
<rect x="399.9" y="789.9" width="40.3" height="20.4" rx="10.2" fill="#000" fill-opacity="0.140"/>
<rect x="443.2" y="790.2" width="36.8" height="21.4" rx="10.7" fill="#000" fill-opacity="0.140"/>
<rect x="481.9" y="788.9" width="36.3" height="22.4" rx="11.2" fill="#000" fill-opacity="0.140"/>
</g>
<g filter="url(#b16)">
<rect x="73.4" y="791.6" width="28.6" height="12.4" rx="6.2" fill="#000" fill-opacity="1"/>
<rect x="106.2" y="791.4" width="31.7" height="10.4" rx="5.2" fill="#000" fill-opacity="1"/>
<rect x="144.9" y="792.9" width="31.7" height="8.4" rx="4.2" fill="#000" fill-opacity="1"/>
<rect x="184.0" y="793.6" width="29.3" height="8.4" rx="4.2" fill="#000" fill-opacity="1"/>
<rect x="220.6" y="794.0" width="30.5" height="10.4" rx="5.2" fill="#000" fill-opacity="1"/>
<rect x="257.4" y="794.5" width="33.1" height="9.4" rx="4.7" fill="#000" fill-opacity="1"/>
<rect x="298.7" y="795.9" width="29.3" height="8.4" rx="4.2" fill="#000" fill-opacity="1"/>
<rect x="334.4" y="795.9" width="26.5" height="8.4" rx="4.2" fill="#000" fill-opacity="1"/>
<rect x="367.2" y="795.9" width="27.6" height="8.4" rx="4.2" fill="#000" fill-opacity="1"/>
<rect x="401.9" y="794.9" width="36.3" height="10.4" rx="5.2" fill="#000" fill-opacity="1"/>
<rect x="445.2" y="795.2" width="32.8" height="11.4" rx="5.7" fill="#000" fill-opacity="1"/>
<rect x="483.9" y="793.9" width="32.3" height="12.4" rx="6.2" fill="#000" fill-opacity="1"/>
</g>
</g>
<rect x="62.2" y="786.1" width="456.40" height="29.30" fill="none" stroke="#333" stroke-width="1.1"/>
<text x="87.2" y="647.0" font-size="13" text-anchor="middle" fill="#1a1a1a">-</text>
<text x="123.2" y="647.6" font-size="14" text-anchor="middle" fill="#1a1a1a">+</text>
<text x="160.7" y="647.6" font-size="14" text-anchor="middle" fill="#1a1a1a">+</text>
<text x="198.2" y="647.6" font-size="14" text-anchor="middle" fill="#1a1a1a">+</text>
<text x="235.7" y="647.6" font-size="14" text-anchor="middle" fill="#1a1a1a">+</text>
<text x="273.2" y="647.6" font-size="14" text-anchor="middle" fill="#1a1a1a">+</text>
<text x="310.7" y="647.6" font-size="14" text-anchor="middle" fill="#1a1a1a">+</text>
<text x="348.2" y="647.6" font-size="14" text-anchor="middle" fill="#1a1a1a">+</text>
<text x="385.7" y="647.6" font-size="14" text-anchor="middle" fill="#1a1a1a">+</text>
<text x="423.2" y="647.6" font-size="14" text-anchor="middle" fill="#1a1a1a">+</text>
<text x="460.7" y="647.6" font-size="14" text-anchor="middle" fill="#1a1a1a">+</text>
<text x="501.3" y="647.6" font-size="14" text-anchor="middle" fill="#1a1a1a">+</text>
<text x="90.3" y="670.2" font-size="12.5" font-weight="bold" text-anchor="middle">CON</text>
<text x="127.8" y="670.2" font-size="12.5" font-weight="bold" text-anchor="middle" textLength="22" lengthAdjust="spacingAndGlyphs">LPS</text>
<text x="160.0" y="670.2" font-size="12.5" font-weight="bold" text-anchor="middle">3</text>
<text x="197.5" y="670.2" font-size="12.5" font-weight="bold" text-anchor="middle">3</text>
<text x="234.1" y="670.2" font-size="12.5" font-weight="bold" text-anchor="middle">3</text>
<text x="271.2" y="670.2" font-size="12.5" font-weight="bold" text-anchor="middle">4</text>
<text x="311.2" y="670.2" font-size="12.5" font-weight="bold" text-anchor="middle">4</text>
<text x="347.8" y="670.2" font-size="12.5" font-weight="bold" text-anchor="middle">4</text>
<text x="385.0" y="670.2" font-size="12.5" font-weight="bold" text-anchor="middle">5</text>
<text x="421.9" y="670.2" font-size="12.5" font-weight="bold" text-anchor="middle">5</text>
<text x="459.1" y="670.2" font-size="12.5" font-weight="bold" text-anchor="middle">5</text>
<text x="501.2" y="670.2" font-size="12.5" font-weight="bold" text-anchor="middle" textLength="24.8" lengthAdjust="spacingAndGlyphs">DEX</text>
<text x="160.6" y="689.4" font-size="13" text-anchor="middle" fill="#1a1a1a">40</text>
<text x="198.8" y="689.4" font-size="13" text-anchor="middle" fill="#1a1a1a">20</text>
<text x="232.8" y="689.4" font-size="13" text-anchor="middle" fill="#1a1a1a">10</text>
<text x="270.9" y="689.4" font-size="13" text-anchor="middle" fill="#1a1a1a">40</text>
<text x="311.6" y="689.4" font-size="13" text-anchor="middle" fill="#1a1a1a">20</text>
<text x="345.9" y="689.4" font-size="13" text-anchor="middle" fill="#1a1a1a">10</text>
<text x="383.4" y="689.4" font-size="13" text-anchor="middle" fill="#1a1a1a">40</text>
<text x="421.2" y="689.4" font-size="13" text-anchor="middle" fill="#1a1a1a">20</text>
<text x="459.4" y="689.4" font-size="13" text-anchor="middle" fill="#1a1a1a">10</text>
<text x="535.0" y="652.9" font-size="13" textLength="75.2" lengthAdjust="spacingAndGlyphs" fill="#1a1a1a">LPS(1µg/mL)</text>
<text x="534.7" y="669.6" font-size="13.5" textLength="63.8" lengthAdjust="spacingAndGlyphs" fill="#1a1a1a">compound</text>
<text x="537.6" y="689.1" font-size="14.2" textLength="29.2" lengthAdjust="spacingAndGlyphs" fill="#1a1a1a">(µM)</text>
<text x="537.7" y="715.0" font-size="14.5" textLength="52" lengthAdjust="spacingAndGlyphs" fill="#1a1a1a">130 kDa</text>
<text x="538.8" y="759.2" font-size="14.5" textLength="44" lengthAdjust="spacingAndGlyphs" fill="#1a1a1a">72 kDa</text>
<text x="538.8" y="803.2" font-size="14.5" textLength="44" lengthAdjust="spacingAndGlyphs" fill="#1a1a1a">37 kDa</text>
<text x="13.4" y="714.6" font-size="15" font-weight="bold" textLength="33.8" lengthAdjust="spacingAndGlyphs">iNOS</text>
<text x="8.5" y="758.6" font-size="15" font-weight="bold" textLength="41.8" lengthAdjust="spacingAndGlyphs">COX-2</text>
<text x="3.7" y="802.7" font-size="15" font-weight="bold" textLength="50.6" lengthAdjust="spacingAndGlyphs">GAPDH</text>
</g>
<g id="letters" filter="url(#sh)">
<text transform="translate(10.3,25.6) scale(0.955,1)" font-size="36.9">A</text>
<text transform="translate(605.8,29.3) scale(0.955,1)" font-size="36.9">B</text>
<text transform="translate(10.0,362.6) scale(0.955,1)" font-size="36.9">C</text>
<text transform="translate(614.2,360.4) scale(0.955,1)" font-size="36.9">D</text>
<text transform="translate(10.9,657.7) scale(0.955,1)" font-size="36.9">E</text>
</g>
</g></svg></body></html>
